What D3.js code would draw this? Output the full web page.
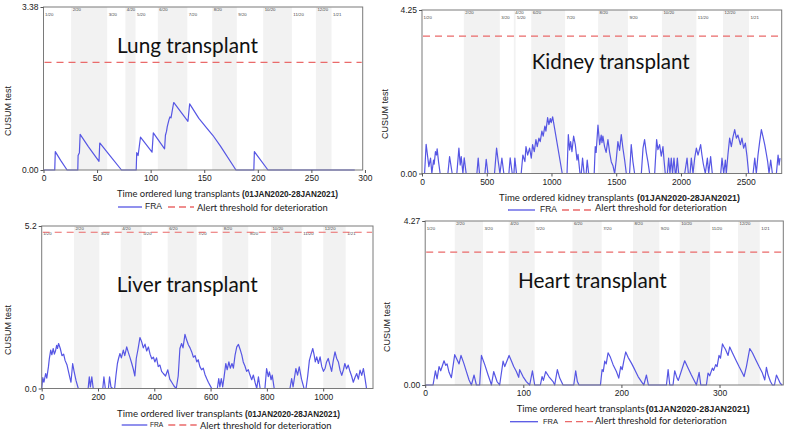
<!DOCTYPE html>
<html><head><meta charset="utf-8">
<script src="https://cdn.jsdelivr.net/npm/d3@7"></script>
<style>body{margin:0;background:#fff}svg{display:block}</style>
</head><body><svg id="c" width="791" height="435"></svg>
<script>
// ---------- DATA ----------
const monthLabels = ["1/20","2/20","3/20","4/20","5/20","6/20","7/20","8/20","9/20","10/20","11/20","12/20","1/21"];
const seriesName = "FRA";
const thresholdName = "Alert threshold for deterioration";

// Lung
const lungMonthStarts = [0,25.8,59.4,76.4,85.9,106.7,134.2,157.4,180.4,205,231.8,254.2,268.8];
const lungXTicks = [0,50,100,150,200,250,300];
const lungYTicks = ["0.00","3.38"];
const lungThreshold = 2.23;
const lungCusum = [[0,0],[10.5,0],[11,0.38],[16,0.2],[22,0],[32,0],[32.3,0.3],[33.5,0.36],[34.2,0.74],[42,0.48],[51.8,0.18],[52.5,0.56],[62,0.3],[72.8,0],[86.5,0],[87,0.36],[88.3,0.3],[90.5,0.68],[101.3,0.37],[102.5,0.77],[113,0.44],[113.8,0.72],[114.8,0.8],[115.5,0.9],[117.2,1.05],[118,1.1],[119,1.08],[121.5,1.4],[134.8,1.01],[136.4,1.37],[145,1.07],[152,0.88],[158,0.72],[165,0.5],[179.6,0],[196.3,0],[196.8,0.38],[209.5,0],[290.5,0]];

// Kidney
const kidneyMonthStarts = [0,323,601,709,723,844,1105,1360,1590,1853,2119,2325,2525];
const kidneyXTicks = [0,500,1000,1500,2000,2500];
const kidneyYTicks = ["0.00","4.25"];
const kidneyThreshold = 3.57;
const kidneyCusum = [[0,0],[20,0],[32,0.76],[53,0.18],[60,0.3],[66,0.4],[76,0],[89,0.35],[94,0.24],[104,0.57],[112,0.48],[117,0.64],[128,0.3],[140,0],[200,0],[213,0.44],[233,0],[269,0],[285,0.66],[295,0.22],[303,0.44],[316,0],[326,0.41],[341,0],[424,0],[434,0.4],[444,0],[486,0],[496,0.37],[509,0],[560,0],[576,0.66],[589,0.31],[602,0],[617,0.4],[632,0],[671,0],[681,0.41],[697,0],[710,0],[717,0.4],[730,0],[766,0],[779,0.48],[795,0.31],[803,0.7],[816,0.48],[831,0.66],[844,0.4],[854,0.75],[867,0.57],[880,0.88],[890,0.7],[903,0.92],[913,0.83],[926,1.1],[936,0.97],[949,1.23],[957,1.1],[970,1.45],[980,1.27],[991,1.43],[998,1.32],[1009,1.47],[1083,0],[1120,0],[1130,1.01],[1140,0.61],[1148,0.83],[1158,0.57],[1171,0.97],[1184,0.75],[1197,0.35],[1205,0.5],[1220,0],[1230,0],[1240,0.4],[1252,0],[1268,0],[1276,0.35],[1287,0],[1330,0],[1338,0.7],[1345,0.55],[1359,1.26],[1367,0.95],[1372,0.75],[1384,1.0],[1390,0.8],[1397,0.97],[1410,0.7],[1422,0.55],[1436,0.88],[1449,0.55],[1462,0.3],[1475,0.2],[1488,0],[1500,0.35],[1513,0.83],[1526,0.6],[1539,1.01],[1552,0.65],[1565,0.35],[1578,0],[1603,0],[1616,0.75],[1629,0.31],[1642,0],[1694,0],[1707,0.66],[1719,0.88],[1732,0.55],[1745,0.3],[1758,0],[1797,0],[1812,0.88],[1822,0.62],[1835,0.75],[1848,0.45],[1861,0.7],[1869,0.35],[1879,0],[1895,0],[1905,0.4],[1915,0],[1925,0.4],[1935,0],[1946,0.4],[1956,0],[1962,0],[1972,0.4],[1982,0],[2029,0],[2047,0.4],[2057,0],[2070,0],[2080,0.4],[2093,0],[2106,0.4],[2119,0.66],[2132,0.48],[2152,0.75],[2162,0.48],[2172,0.26],[2188,0],[2204,0.4],[2214,0],[2229,0.44],[2242,0],[2307,0],[2317,0.4],[2330,0],[2343,0.35],[2350,0],[2363,0.5],[2376,0.92],[2389,0.7],[2402,0.95],[2415,1.14],[2428,0.92],[2440,1.0],[2459,0.75],[2471,0.92],[2484,0.66],[2497,0.79],[2510,0.45],[2523,0],[2557,0],[2570,0.4],[2582,0],[2595,0.48],[2608,0.83],[2621,1.14],[2634,0.95],[2647,0.75],[2660,0.5],[2670,0.3],[2680,0],[2693,0.35],[2706,0],[2737,0],[2750,0.48],[2758,0.22],[2765,0.4]];

// Liver
const liverMonthStarts = [0,114.7,204.6,280.6,355.2,447.6,550.6,641.6,733.9,814.6,923.6,1000.4,1079.9];
const liverXTicks = [0,200,400,600,800,1000];
const liverYTicks = ["0.0","5.2"];
const liverThreshold = 5.0;
const liverCusum = [[0,0],[4,0.35],[8,0.2],[14,0.48],[18,0.33],[24,0.7],[27,0.95],[32,1.23],[36,1.08],[41,1.28],[45,1.1],[49,1.2],[53,1.38],[56,1.28],[60,1.44],[66,1.28],[72,1.05],[78,1.1],[83,0.9],[90,0.75],[95,0.55],[100,0.35],[104,0.2],[110,0.8],[115,0.55],[122,0.25],[130,0],[165,0],[169,0.37],[173,0.05],[178,0.37],[183,0],[217,0],[221,0.37],[226,0],[237,0],[241,0.37],[246,0.05],[252,0],[259,0],[264,0.43],[269,0.8],[273,0.96],[278,1.12],[283,0.98],[290,1.23],[295,1.05],[302,1.33],[308,1.15],[314,0.98],[320,0.8],[326,0.6],[331,0.4],[336,0.96],[341,1.2],[343,1.3],[349,1.63],[355,1.5],[361,1.3],[367,1.42],[373,1.2],[379,1.33],[385,1.1],[391,0.95],[397,1.0],[402,0.85],[408,0.98],[414,0.7],[420,0.75],[426,0.55],[432,0.48],[440,0.4],[448,0.6],[455,0.3],[462,0.2],[470,0.08],[478,0],[485,0.4],[491,1.28],[497,1.44],[502,1.3],[509,1.73],[515,1.55],[521,1.4],[527,1.3],[533,1.17],[539,1.0],[545,1.05],[551,0.85],[556,0.92],[562,0.7],[568,0.6],[574,0.65],[580,0.45],[586,0.32],[592,0.2],[598,0.1],[604,0],[624,0],[629,0.32],[633,0.05],[638,0.32],[643,0.05],[648,0.37],[654,0.8],[659,0.6],[665,0.85],[670,0.65],[676,0.8],[681,0.65],[687,1.07],[693,1.33],[699,1.41],[705,1.25],[711,1.07],[716,0.85],[722,0.72],[728,0.55],[734,0.6],[740,0.43],[746,0.28],[752,0.43],[758,0.2],[764,0],[770,0.37],[776,0],[793,0],[799,0.64],[805,0.38],[809,0.53],[815,0.28],[819,0.43],[826,0],[882,0],[888,0.32],[893,0.05],[903,0.64],[909,0.43],[915,0.69],[923,0.3],[932,0],[939,0],[945,0.4],[951,0.9],[957,1.1],[963,1.28],[968,1.07],[972,0.85],[977,1.01],[983,0.8],[989,1.01],[995,0.7],[1001,0.55],[1007,0.65],[1012,0.85],[1018,0.96],[1024,0.75],[1030,0.55],[1036,0.9],[1042,1.17],[1048,0.96],[1054,0.85],[1060,0.58],[1066,0.42],[1072,0.6],[1077,0.8],[1083,0.63],[1089,0.75],[1095,0.55],[1101,0.4],[1107,0.2],[1113,0.35],[1119,0.48],[1125,0.3],[1131,0.59],[1137,0.42],[1143,0.64],[1149,0.3],[1154,0],[1170,0]];

// Heart
const heartMonthStarts = [0,30.1,58.9,85.1,111.6,150.1,179.9,211.8,238.6,259.4,290.5,318.9,341];
const heartXTicks = [0,100,200,300];
const heartYTicks = ["0.00","4.27"];
const heartThreshold = 3.46;
const heartCusum = [[0,0],[8,0],[10.4,0.37],[12.1,0.16],[14.1,0.48],[15.8,0.37],[19.2,0.63],[20.9,0.51],[22.3,0.55],[24.3,0.33],[26.7,0.19],[30.1,0.79],[32.5,0.66],[34.5,0.55],[36.5,0.77],[39.3,0.57],[42,0.35],[44.7,0.13],[47.1,0],[49.8,0.26],[52.2,0],[55.5,0],[57.3,0.77],[60.7,0.53],[64.1,0.26],[66.4,0.09],[67.5,0],[69.8,0.35],[73.2,0.09],[75.9,0],[79.4,0.62],[81.1,0.48],[85.5,0.77],[87.8,0.63],[90.2,0.48],[92.9,0.35],[95.3,0.2],[96.3,0.4],[99.7,0.22],[103.1,0.09],[106.5,0],[109.3,0.37],[111.6,0],[117.4,0],[119.1,0.22],[120.5,0.12],[122.8,0.35],[126,0.22],[130.3,0.09],[132,0],[134.7,0.4],[137.1,0.18],[140.5,0],[151.4,0],[153.4,0.37],[155.1,0.09],[156.8,0],[178.6,0],[180.3,0.4],[181.5,0.35],[183,0.62],[184.5,0.55],[186.4,0.84],[188.8,0.72],[191.5,0.53],[194.9,0.35],[197.3,0.18],[199.3,0.48],[200.8,0.4],[202.4,0.62],[204.4,0.86],[206.8,0.72],[210.2,0.57],[213.6,0.4],[217,0.22],[220.4,0.09],[222.8,0],[225.5,0.26],[227.5,0],[245.9,0],[247.6,0.4],[249.3,0],[252.6,0],[254.3,0.37],[256.7,0.18],[258,0.12],[264.5,0.63],[267.9,0.44],[271.3,0.26],[274.7,0.09],[276.4,0],[279.2,0.33],[280.9,0],[286.6,0],[288.3,0.31],[290,0.24],[292.7,0.44],[294,0.38],[296.1,0.53],[297.5,0.48],[299.5,0.77],[301,0.7],[303,1.07],[304.6,0.99],[306,0.93],[308.7,0.77],[310.4,0.99],[313.1,0.84],[316.5,0.66],[319.9,0.48],[323.3,0.31],[325,0.22],[327.4,0.48],[330.8,0.95],[333.5,0.84],[336.9,0.66],[340.3,0.48],[343.7,0.31],[346.1,0.13],[347.8,0.46],[349.5,0.26],[351.9,0.09],[353.9,0],[356,0],[358,0.26],[360,0.15],[362,0.04],[364,0]];

// ---------- DRAW ----------
const svg = d3.select('#c');
const SANS = "'Liberation Sans', Arial, sans-serif";
const HUM = "Lato, 'Open Sans', sans-serif";
const LINE_COL = "#5656e4";
const DASH_COL = "#ea6a6a";

function fitW(sel, w){
  const n = sel.node(); const cw = n.getComputedTextLength();
  const fs = parseFloat(sel.attr('font-size'));
  if (cw > 0) sel.attr('font-size', fs * w / cw);
  return sel;
}

function panel(c){
  const g = svg.append('g');
  const x = d3.scaleLinear().domain([0, c.xMax]).range([c.left, c.right]);
  const y = d3.scaleLinear().domain([0, c.yMax]).range([c.bottom, c.top]);

  // month bands
  c.months.forEach((m, i) => {
    const end = i + 1 < c.months.length ? c.months[i + 1] : c.xMax;
    if (i % 2 === 1) {
      g.append('rect').attr('x', x(m)).attr('y', c.top)
        .attr('width', x(end) - x(m)).attr('height', c.bottom - c.top)
        .attr('fill', '#f2f2f2');
    }
  });
  c.months.forEach((m, i) => {
    g.append('text').attr('x', x(m) + 1.5).attr('y', c.top + (i % 2 === 1 ? 3.8 : 8.6))
      .attr('font-family', SANS).attr('font-size', 4.3).attr('fill', '#444')
      .text(monthLabels[i]);
  });

  // title
  const t = g.append('text').attr('x', c.titleX).attr('y', c.titleY)
    .attr('font-family', HUM).attr('font-size', 24).attr('fill', '#111').text(c.title);
  fitW(t, c.titleW);

  // threshold
  g.append('line').attr('x1', c.left + 1).attr('x2', c.right - 1)
    .attr('y1', y(c.threshold)).attr('y2', y(c.threshold))
    .attr('stroke', DASH_COL).attr('stroke-width', 1.2).attr('stroke-dasharray', '7,5');

  // cusum line
  const line = d3.line().x(d => x(d[0])).y(d => y(d[1]));
  g.append('path').datum(c.data).attr('d', line).attr('fill', 'none')
    .attr('stroke', LINE_COL).attr('stroke-width', 1.2).attr('stroke-linejoin', 'round');

  // frame
  g.append('rect').attr('x', c.left).attr('y', c.top)
    .attr('width', c.right - c.left).attr('height', c.bottom - c.top)
    .attr('fill', 'none').attr('stroke', '#7a7a7a').attr('stroke-width', 1);

  // x axis
  const xa = d3.axisBottom(x).tickValues(c.xTicks).tickSize(3).tickPadding(2).tickFormat(d3.format('d'));
  const gx = g.append('g').attr('transform', `translate(0,${c.bottom})`).call(xa);
  gx.select('.domain').remove();
  gx.selectAll('line').attr('stroke', '#555');
  gx.selectAll('text').attr('font-family', SANS).attr('font-size', 8.5).attr('fill', '#222');

  // y axis
  const ya = d3.axisLeft(y).tickValues([0, c.yMax]).tickSize(3).tickPadding(2)
    .tickFormat((d, i) => c.yTicks[i]);
  const gy = g.append('g').attr('transform', `translate(${c.left},0)`).call(ya);
  gy.select('.domain').remove();
  gy.selectAll('line').attr('stroke', '#555');
  gy.selectAll('text').attr('font-family', SANS).attr('font-size', 8.5).attr('fill', '#222');

  // y title
  const yt = g.append('text').attr('transform', `translate(${c.yTitleX},${c.yTitleY}) rotate(-90)`)
    .attr('text-anchor', 'middle').attr('font-family', SANS).attr('font-size', 9)
    .attr('fill', '#222').text('CUSUM test');

  // x title
  const p1 = g.append('text').attr('x', c.xt1[0]).attr('y', c.xtY)
    .attr('font-family', HUM).attr('font-size', 12).attr('fill', '#222').text(c.xTitle);
  fitW(p1, c.xt1[1] - c.xt1[0]);
  const p2 = g.append('text').attr('x', c.xt2[0]).attr('y', c.xtY)
    .attr('font-family', SANS).attr('font-size', 9.5).attr('fill', '#222').attr('font-weight', 'bold')
    .text('(01JAN2020-28JAN2021)');
  fitW(p2, c.xt2[1] - c.xt2[0]);

  // legend
  const L = c.leg;
  g.append('line').attr('x1', L.l[0]).attr('x2', L.l[1]).attr('y1', L.y).attr('y2', L.y)
    .attr('stroke', LINE_COL).attr('stroke-width', 1.3);
  const f = g.append('text').attr('x', L.f[0]).attr('y', L.y + 2.2).attr('font-family', SANS)
    .attr('font-size', 6.5).attr('fill', '#222').text(seriesName);
  fitW(f, L.f[1] - L.f[0]);
  g.append('line').attr('x1', L.d[0]).attr('x2', L.d[1]).attr('y1', L.y).attr('y2', L.y)
    .attr('stroke', DASH_COL).attr('stroke-width', 1.3).attr('stroke-dasharray', '7,4');
  const a = g.append('text').attr('x', L.a[0]).attr('y', L.ty + 4.3).attr('font-family', HUM)
    .attr('font-size', 12).attr('fill', '#222').text(thresholdName);
  fitW(a, L.a[1] - L.a[0]);
}

panel({title:'Lung transplant', titleX:117, titleY:52.7, titleW:141,
  left:43.5, right:362.7, top:7, bottom:170, xMax:297.9, yMax:3.38,
  months:lungMonthStarts, xTicks:lungXTicks, yTicks:lungYTicks, threshold:lungThreshold, data:lungCusum,
  yTitleX:11, yTitleY:111, xTitle:'Time ordered lung transplants', xt1:[117,240], xt2:[242,338], xtY:197,
  leg:{y:207, ty:207, l:[118,142], f:[145,162], d:[168,194], a:[197,328]}});

panel({title:'Kidney transplant', titleX:531.7, titleY:69.3, titleW:158,
  left:422, right:781.7, top:10, bottom:173.5, xMax:2778, yMax:4.25,
  months:kidneyMonthStarts, xTicks:kidneyXTicks, yTicks:kidneyYTicks, threshold:kidneyThreshold, data:kidneyCusum,
  yTitleX:388, yTitleY:114, xTitle:'Time ordered kidney transplants', xt1:[499,634], xt2:[637,740], xtY:201,
  leg:{y:210, ty:206.5, l:[508,535], f:[540,557], d:[562,592], a:[595,727]}});

panel({title:'Liver transplant', titleX:116.7, titleY:291.7, titleW:141,
  left:41.7, right:373, top:226, bottom:388.5, xMax:1177, yMax:5.2,
  months:liverMonthStarts, xTicks:liverXTicks, yTicks:liverYTicks, threshold:liverThreshold, data:liverCusum,
  yTitleX:11, yTitleY:330, xTitle:'Time ordered liver transplants', xt1:[117,243], xt2:[245,340], xtY:417,
  leg:{y:425, ty:424.3, l:[121.7,147.3], f:[150,163.3], d:[168.3,196.7], a:[200,331.7]}});

panel({title:'Heart transplant', titleX:518, titleY:287.7, titleW:148.7,
  left:425.2, right:783.3, top:221, bottom:385, xMax:365, yMax:4.27,
  months:heartMonthStarts, xTicks:heartXTicks, yTicks:heartYTicks, threshold:heartThreshold, data:heartCusum,
  yTitleX:390, yTitleY:327, xTitle:'Time ordered heart transplants', xt1:[516.7,645], xt2:[645.7,750], xtY:412,
  leg:{y:421.7, ty:420, l:[510,538], f:[543,558], d:[565,593], a:[595,727]}});
</script></body></html>
